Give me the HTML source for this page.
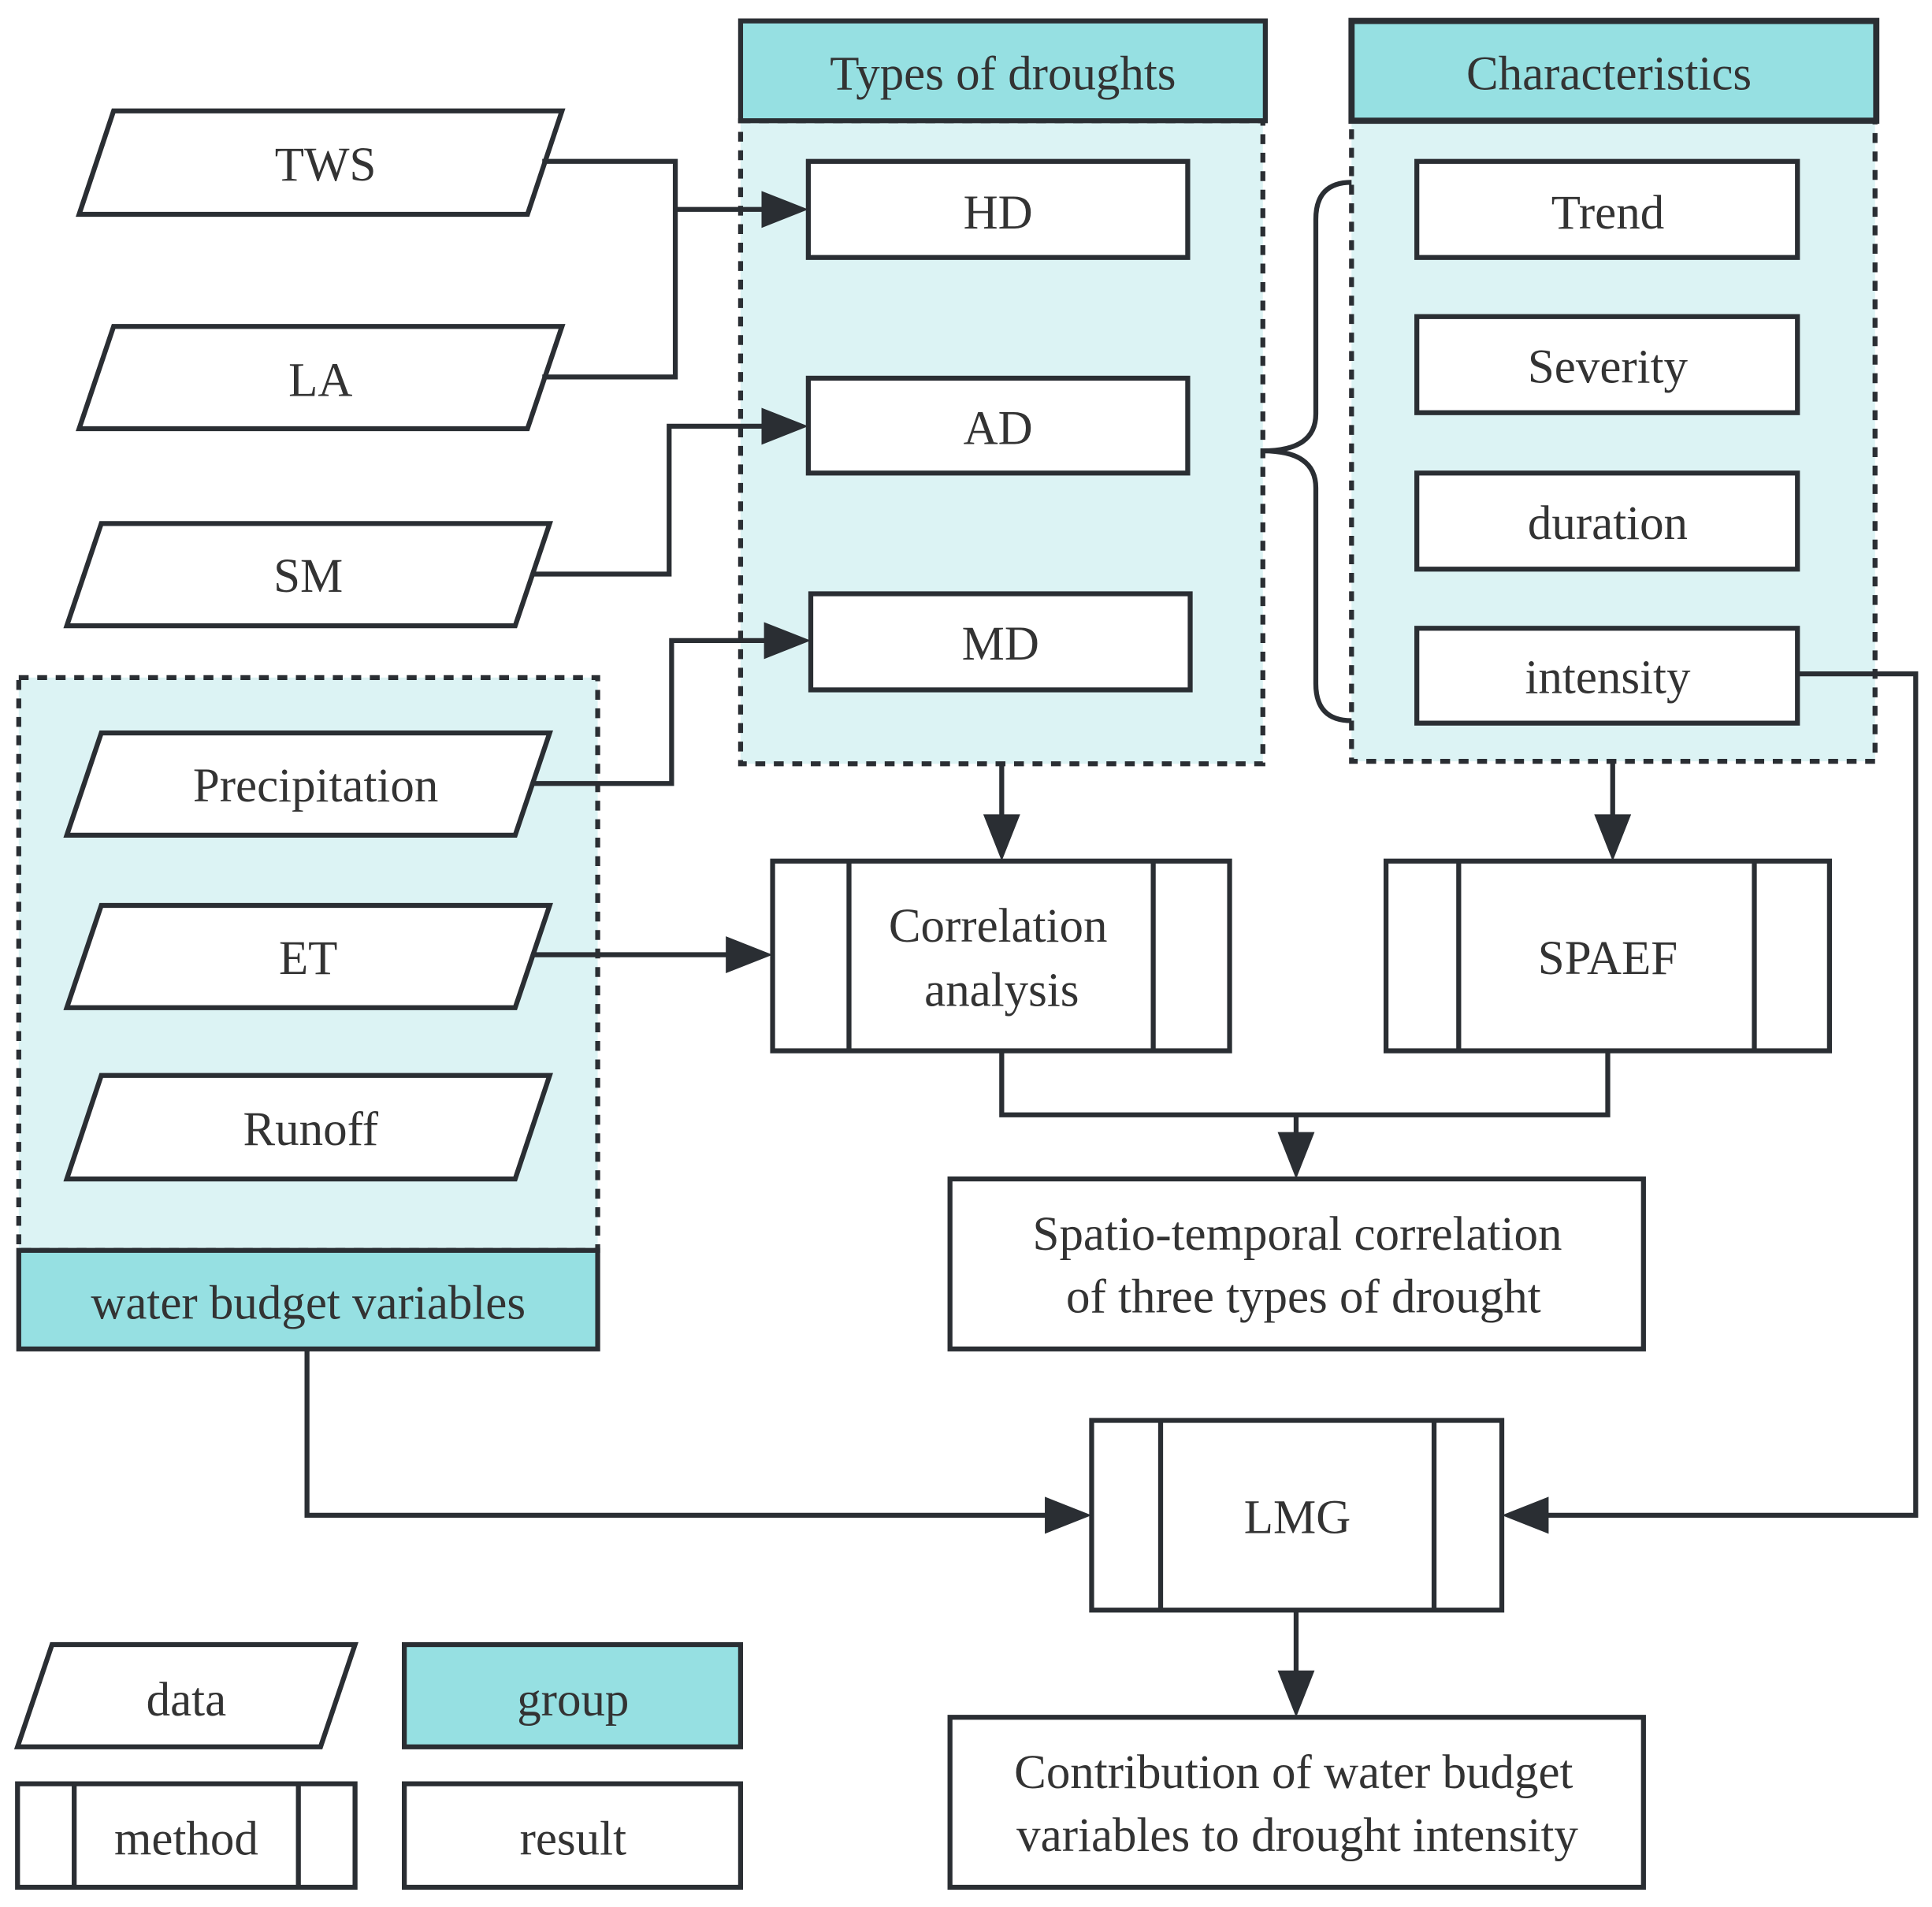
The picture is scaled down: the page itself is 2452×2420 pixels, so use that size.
<!DOCTYPE html>
<html><head><meta charset="utf-8"><style>
html,body{margin:0;padding:0;background:#fff;}
svg{display:block;}
text{font-family:"Liberation Serif",serif;font-size:39px;fill:#333;text-anchor:middle;dominant-baseline:central;}
</style></head><body>
<svg width="2452" height="2420" viewBox="0 0 1568 1548" xmlns="http://www.w3.org/2000/svg">
<g stroke="#2a2e33" stroke-width="4" fill="none">
<rect x="601" y="98" width="424" height="522" fill="#dcf3f4" stroke-dasharray="8,7"/>
<rect x="1097" y="98" width="425" height="520" fill="#dcf3f4" stroke-dasharray="8,7"/>
<rect x="15" y="550" width="470" height="465" fill="#dcf3f4" stroke-dasharray="8,7"/>
<rect x="601" y="17" width="426" height="81" fill="#96e0e2"/>
<rect x="1097" y="17" width="426" height="81" fill="#96e0e2" stroke-width="5"/>
<rect x="15" y="1015" width="470" height="80" fill="#96e0e2"/>
<polygon points="92,90 456,90 428,174 64,174" fill="#fff"/>
<polygon points="92,265 456,265 428,348 64,348" fill="#fff"/>
<polygon points="82,425 446,425 418,508 54,508" fill="#fff"/>
<polygon points="82,595 446,595 418,678 54,678" fill="#fff"/>
<polygon points="82,735 446,735 418,818 54,818" fill="#fff"/>
<polygon points="82,873 446,873 418,957 54,957" fill="#fff"/>
<rect x="656" y="131" width="308" height="78" fill="#fff"/>
<rect x="656" y="307" width="308" height="77" fill="#fff"/>
<rect x="658" y="482" width="308" height="78" fill="#fff"/>
<rect x="1150" y="131" width="309" height="78" fill="#fff"/>
<rect x="1150" y="257" width="309" height="78" fill="#fff"/>
<rect x="1150" y="384" width="309" height="78" fill="#fff"/>
<rect x="1150" y="510" width="309" height="77" fill="#fff"/>
<rect x="627" y="699" width="371" height="154" fill="#fff"/>
<line x1="689" y1="699" x2="689" y2="853"/><line x1="936" y1="699" x2="936" y2="853"/>
<rect x="1125" y="699" width="360" height="154" fill="#fff"/>
<line x1="1184" y1="699" x2="1184" y2="853"/><line x1="1424" y1="699" x2="1424" y2="853"/>
<rect x="771" y="957" width="563" height="138" fill="#fff"/>
<rect x="886" y="1153" width="333" height="154" fill="#fff"/>
<line x1="942" y1="1153" x2="942" y2="1307"/><line x1="1164" y1="1153" x2="1164" y2="1307"/>
<rect x="771" y="1394" width="563" height="138" fill="#fff"/>
<polygon points="42,1335 288,1335 260,1418 14,1418" fill="#fff"/>
<rect x="328" y="1335" width="273" height="83" fill="#96e0e2"/>
<rect x="14" y="1448" width="274" height="84" fill="#fff"/>
<line x1="60" y1="1448" x2="60" y2="1532"/><line x1="242" y1="1448" x2="242" y2="1532"/>
<rect x="328" y="1448" width="273" height="84" fill="#fff"/>
<polyline points="440,131 548,131 548,306 440,306"/>
<line x1="548" y1="170" x2="620" y2="170"/>
<polyline points="432,466 543,466 543,346 620,346"/>
<polyline points="432,636 545,636 545,520 622,520"/>
<line x1="432" y1="775" x2="591" y2="775"/>
<line x1="813" y1="620" x2="813" y2="663"/>
<line x1="1309" y1="618" x2="1309" y2="663"/>
<polyline points="813,853 813,905 1305,905 1305,853"/>
<line x1="1052" y1="905" x2="1052" y2="921"/>
<polyline points="1459,547 1555,547 1555,1230 1255,1230"/>
<polyline points="249,1095 249,1230 850,1230"/>
<line x1="1052" y1="1307" x2="1052" y2="1358"/>
<path d="M1097,148 Q1068,148 1068,178 L1068,336 Q1068,366 1025,366 Q1068,366 1068,396 L1068,555 Q1068,585 1097,585"/>
</g>
<g fill="#2a2e33">
<polygon points="656,170 618,155 618,185"/>
<polygon points="656,346 618,331 618,361"/>
<polygon points="658,520 620,505 620,535"/>
<polygon points="627,775 589,760 589,790"/>
<polygon points="813,699 798,661 828,661"/>
<polygon points="1309,699 1294,661 1324,661"/>
<polygon points="1052,957 1037,919 1067,919"/>
<polygon points="1219,1230 1257,1215 1257,1245"/>
<polygon points="886,1230 848,1215 848,1245"/>
<polygon points="1052,1394 1037,1356 1067,1356"/>
</g>
<text x="814" y="60">Types of droughts</text>
<text x="1306" y="60">Characteristics</text>
<text x="250" y="1058">water budget variables</text>
<text x="264" y="134">TWS</text>
<text x="260" y="309">LA</text>
<text x="250" y="468">SM</text>
<text x="256" y="638">Precipitation</text>
<text x="250" y="778">ET</text>
<text x="252" y="917">Runoff</text>
<text x="810" y="173">HD</text>
<text x="810" y="348">AD</text>
<text x="812" y="523">MD</text>
<text x="1305" y="173">Trend</text>
<text x="1305" y="298">Severity</text>
<text x="1305" y="425">duration</text>
<text x="1305" y="550">intensity</text>
<text x="810" y="752">Correlation</text>
<text x="813" y="804">analysis</text>
<text x="1305" y="778">SPAEF</text>
<text x="1053" y="1002">Spatio-temporal correlation</text>
<text x="1058" y="1053">of three types of drought</text>
<text x="1053" y="1232">LMG</text>
<text x="1050" y="1439">Contribution of water budget</text>
<text x="1053" y="1490">variables to drought intensity</text>
<text x="151" y="1380">data</text>
<text x="465" y="1380">group</text>
<text x="151" y="1493">method</text>
<text x="465" y="1493">result</text>
</svg>
</body></html>
